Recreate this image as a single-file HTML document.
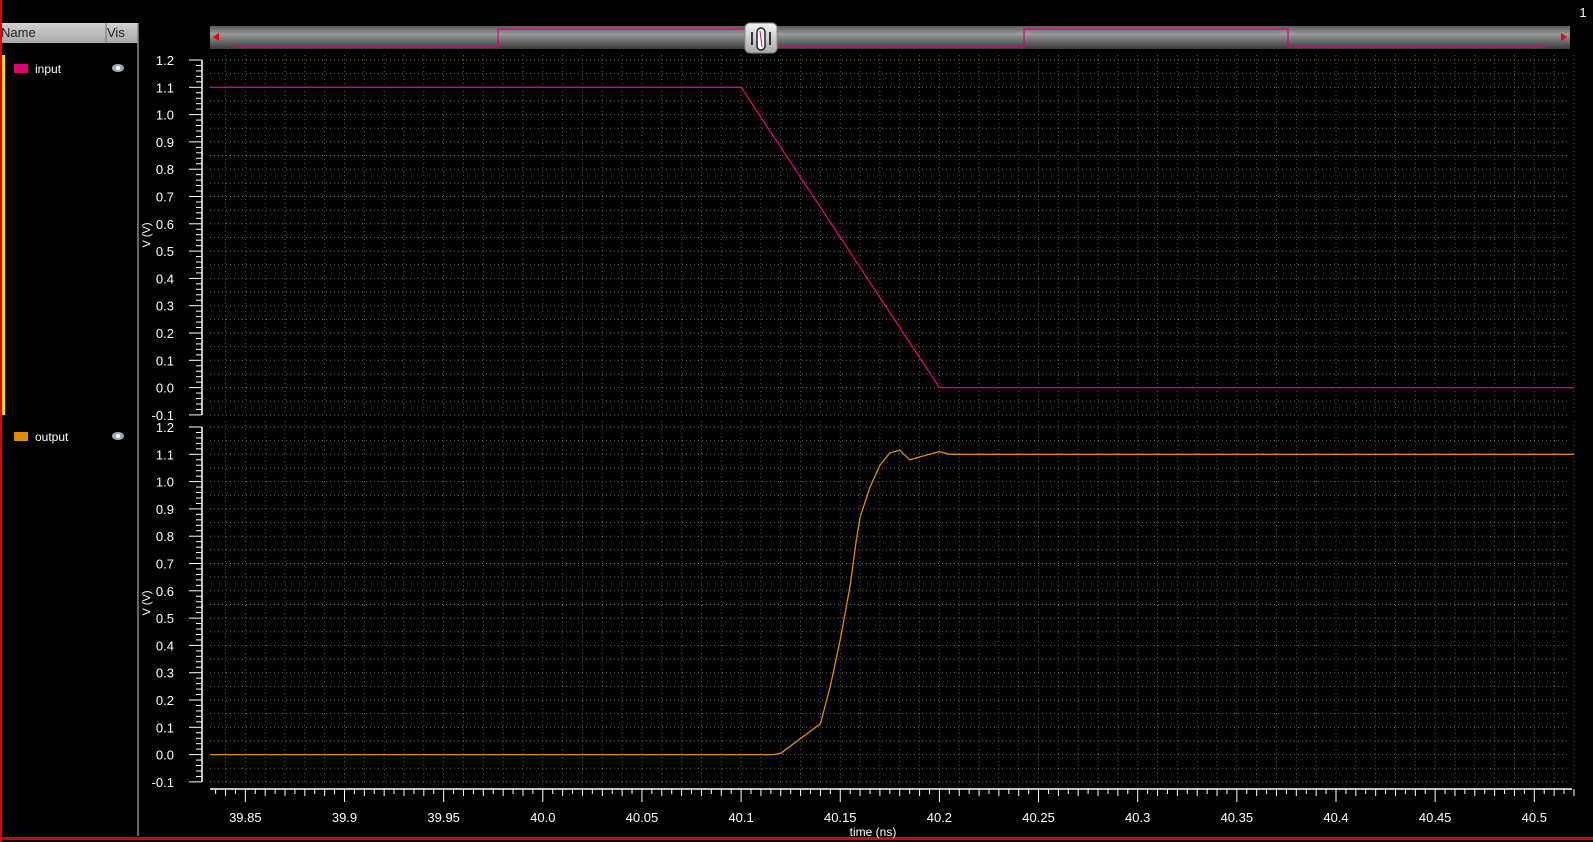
<!DOCTYPE html>
<html><head><meta charset="utf-8"><style>
html,body{margin:0;padding:0;background:#000;width:1593px;height:842px;overflow:hidden;font-family:"Liberation Sans",sans-serif}
svg{position:absolute;left:0;top:0}
</style></head><body>
<svg id="chart" width="1593" height="842">
 <defs>
  <linearGradient id="sb" x1="0" y1="0" x2="0" y2="1">
   <stop offset="0" stop-color="#5a5a5a"/><stop offset="0.35" stop-color="#9a9a9a"/><stop offset="1" stop-color="#3a3a3a"/>
  </linearGradient>
  <linearGradient id="th" x1="0" y1="0" x2="0" y2="1">
   <stop offset="0" stop-color="#f4f4f4"/><stop offset="1" stop-color="#a8a8a8"/>
  </linearGradient>
  <linearGradient id="hd" x1="0" y1="0" x2="0" y2="1">
   <stop offset="0" stop-color="#d0d0d0"/><stop offset="1" stop-color="#a8a8a8"/>
  </linearGradient>
 </defs>
 <rect x="0" y="0" width="2" height="842" fill="#d00"/>
 <rect x="0" y="837" width="1593" height="3" fill="#d00"/>
 <!-- left signal list -->
 <g>
  <rect x="2" y="23" width="136" height="20" fill="url(#hd)"/>
  <line x1="106" y1="23" x2="106" y2="43" stroke="#777"/>
  <text x="1" y="37" font-size="13" fill="#222">Name</text>
  <text x="107" y="37" font-size="13" fill="#222">Vis</text>
  <line x1="138" y1="23" x2="138" y2="836" stroke="#888" stroke-width="1.5"/>
  <rect x="2" y="55" width="3" height="360" fill="#ffe000"/>
  <g>
   <rect x="14" y="64" width="14" height="9" fill="#e0007a"/>
   <text x="35" y="73" font-size="12" fill="#fff">input</text>
   <ellipse cx="118" cy="68" rx="6" ry="4" fill="#9ab"/>
   <circle cx="118" cy="68" r="2" fill="#fff"/>
  </g>
  <g>
   <rect x="14" y="432" width="14" height="9" fill="#e08a00"/>
   <text x="35" y="441" font-size="12" fill="#fff">output</text>
   <ellipse cx="118" cy="436" rx="6" ry="4" fill="#9ab"/>
   <circle cx="118" cy="436" r="2" fill="#fff"/>
  </g>
 </g>
 <text x="1583" y="17" font-size="13" fill="#fff" text-anchor="middle">1</text>
 <!-- scrollbar -->
 <g>
  <rect x="210" y="26" width="1360" height="23" fill="url(#sb)"/>
  <polyline points="234,47 498,47 498,29 745,29" fill="none" stroke="#e0007a" stroke-width="1.2"/>
  <polyline points="778,47 1024,47 1024,29 1288,29 1288,47 1548,47" fill="none" stroke="#e0007a" stroke-width="1.2"/>
  <polygon points="213,37 219,33 219,41" fill="#e00"/>
  <polygon points="1567,37 1561,33 1561,41" fill="#e00"/>
  <rect x="745" y="23" width="32" height="30" rx="5" fill="url(#th)" stroke="#888"/>
  <line x1="752" y1="32" x2="752" y2="45" stroke="#000" stroke-width="1.5"/>
  <line x1="770" y1="32" x2="770" y2="45" stroke="#000" stroke-width="1.5"/>
  <rect x="757" y="28" width="8" height="22" rx="4" fill="#fff" stroke="#222" stroke-width="1.5"/>
  <line x1="760" y1="31" x2="762" y2="47" stroke="#e0007a"/>
 </g>
 <g id="plots"></g>
</svg>
<script>
// data
const tMin = 39.8322, tMax = 40.52;
const xTickLabels = ["39.85","39.9","39.95","40.0","40.05","40.1","40.15","40.2","40.25","40.3","40.35","40.4","40.45","40.5"];
const yTickLabels = ["1.2","1.1","1.0","0.9","0.8","0.7","0.6","0.5","0.4","0.3","0.2","0.1","0.0","-0.1"];
const inputT = [39.8322, 40.1, 40.2, 40.52];
const inputV = [1.1, 1.1, 0.0, 0.0];
const outputT = [39.8322, 40.116, 40.12, 40.14, 40.145, 40.15, 40.155, 40.158, 40.16, 40.165, 40.17, 40.175, 40.18, 40.185, 40.19, 40.195, 40.2, 40.205, 40.52];
const outputV = [0, 0, 0.005, 0.113, 0.25, 0.42, 0.62, 0.78, 0.87, 0.98, 1.06, 1.105, 1.115, 1.08, 1.09, 1.10, 1.11, 1.10, 1.10];

const NS = "http://www.w3.org/2000/svg";
const g = document.getElementById('plots');
function el(tag, attrs, parent){const e=document.createElementNS(NS,tag);for(const k in attrs)e.setAttribute(k,attrs[k]);(parent||g).appendChild(e);return e;}
const X0 = 210, X1 = 1570;
const xPx = t => 542.8 + (t - 40.0) * 1983;
const panels = [
 {name:'input', y12:60, T:inputT, V:inputV, color:'#e0007a', top:55, bot:415},
 {name:'output', y12:427, T:outputT, V:outputV, color:'#e08a00', top:421, bot:785}
];
const pitch = 27.3;
panels.forEach(p => {
 const yPx = v => p.y12 + (1.2 - v) * 10 * pitch;
 const grid = el('g', {}, g);
 
 
 for (let i = 0; i <= 26; i++) {
  const v = 1.2 - i * 0.05, y = yPx(v);
  el('line', {x1:X0, x2:X1, y1:y, y2:y, stroke:'#6a6a6a', 'stroke-dasharray':'1,3'}, grid);
 }
 for (let t = 39.84; t <= tMax; t += 0.01) {
  const x = xPx(t);
  el('line', {x1:x, x2:x, y1:p.top, y2:p.bot, stroke:'#555', 'stroke-dasharray':'1,3'}, grid);
 }
 // y axis
 const ax = el('g', {}, g);
 
 
 el('line', {x1:202, x2:202, y1:yPx(1.2), y2:yPx(-0.1), stroke:'#fff', 'stroke-width':1.5}, ax);
 for (let i = 0; i <= 65; i++) {
  const y = yPx(1.2 - i * 0.02), major = i % 5 === 0;
  el('line', {x1: major ? 189 : 196, x2:202, y1:y, y2:y, stroke:'#fff'}, ax);
 }
 yTickLabels.forEach((lab, i) => {
  const t = el('text', {x:174, y:yPx(1.2 - i * 0.1) + 5, 'font-size':13, fill:'#fff', 'text-anchor':'end'}, ax);
  t.textContent = lab;
 });
 const yc = (p.top + p.bot) / 2;
 const yt = el('text', {x:0, y:0, 'font-size':11, fill:'#fff', 'text-anchor':'middle', transform:`translate(150,${yc}) rotate(-90)`}, ax);
 
 
 yt.textContent = 'V (V)';
 // trace
 const pts = p.T.map((t, i) => xPx(t).toFixed(1) + ',' + yPx(p.V[i]).toFixed(1)).join(' ');
 const line = el('polyline', {points:pts, fill:'none', stroke:p.color, 'stroke-width':1.3}, g);
 
 
});
// x axis
const xa = el('g', {}, g);


el('line', {x1:X0, x2:1572, y1:789, y2:789, stroke:'#fff', 'stroke-width':1.5}, xa);
for (let i = 0; ; i++) {
 const t = 39.835 + i * 0.005; if (t > tMax) break;
 const x = xPx(t); const major = Math.round((t - 39.85) / 0.005) % 10 === 0;
 const mid = Math.round((t - 39.85) / 0.005) % 2 === 0;
 el('line', {x1:x, x2:x, y1:789, y2: major ? 802 : (mid ? 796 : 794), stroke:'#fff'}, xa);
}
xTickLabels.forEach(lab => {
 const t = el('text', {x:xPx(parseFloat(lab)), y:822, 'font-size':13, fill:'#fff', 'text-anchor':'middle'}, xa);
 t.textContent = lab;
});
const xt = el('text', {x:873, y:836, 'font-size':12, fill:'#fff', 'text-anchor':'middle'}, xa);


xt.textContent = 'time (ns)';
</script>
</body></html>
